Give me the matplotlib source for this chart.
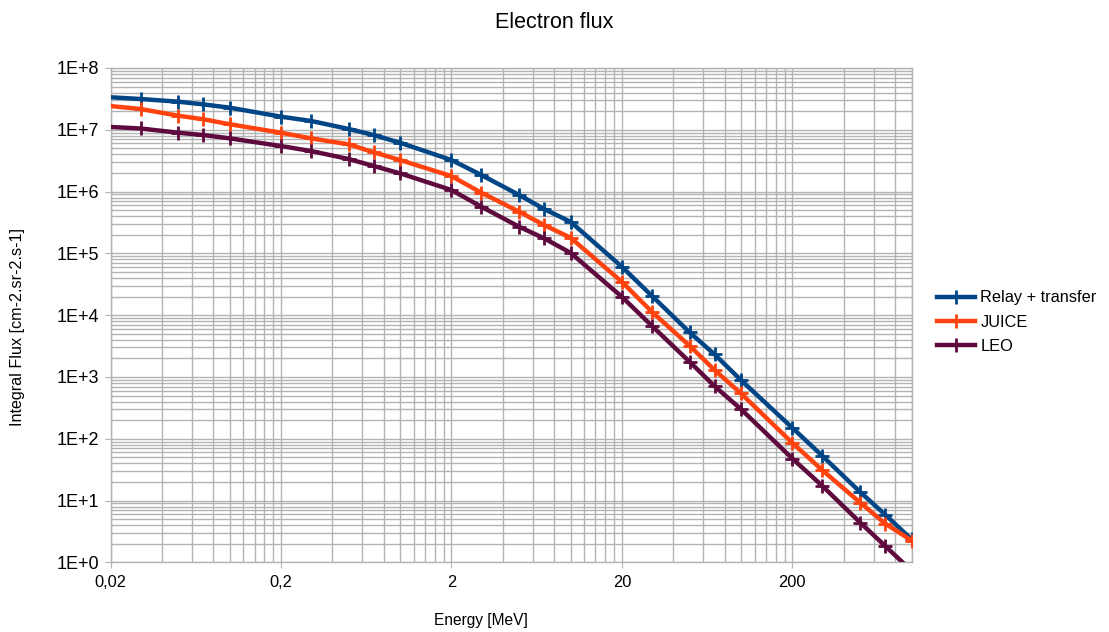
import matplotlib
matplotlib.use("Agg")
import matplotlib.pyplot as plt
from matplotlib.ticker import FixedLocator, FuncFormatter, NullFormatter

plt.rcParams['font.family'] = ['Liberation Sans', 'DejaVu Sans']

energy = [0.02, 0.03, 0.05, 0.07, 0.1, 0.2, 0.3, 0.5, 0.7, 1.0, 2.0, 3.0, 5.0, 7.0, 10.0,
          20.0, 30.0, 50.0, 70.0, 100.0, 200.0, 300.0, 500.0, 700.0, 1000.0]
relay = [3.36e7, 3.15e7, 2.85e7, 2.58e7, 2.28e7, 1.63e7, 1.39e7, 1.03e7, 8.22e6, 6.17e6,
         3.24e6, 1.85e6, 8.78e5, 5.21e5, 3.24e5, 6.06e4, 2.05e4, 5.25e3, 2.31e3, 886,
         150, 52.7, 13.7, 5.92, 2.36]
juice = [2.42e7, 2.17e7, 1.69e7, 1.48e7, 1.23e7, 8.96e6, 7.27e6, 5.81e6, 4.32e6, 3.24e6,
         1.78e6, 9.57e5, 4.71e5, 2.87e5, 1.79e5, 3.46e4, 1.13e4, 3.18e3, 1.29e3, 540,
         85.5, 30.9, 9.26, 4.24, 2.25]
leo = [1.11e7, 1.05e7, 8.96e6, 8.22e6, 7.27e6, 5.46e6, 4.53e6, 3.36e6, 2.59e6, 1.97e6,
       1.06e6, 5.68e5, 2.69e5, 1.75e5, 1.02e5, 1.98e4, 6.71e3, 1.75e3, 708, 300,
       47.8, 17.2, 4.40, 1.84, 0.73]

series_names = ["Relay + transfer", "JUICE", "LEO"]
series_colors = ["#004586", "#ff420e", "#5e0a3e"]
x_tick_values = [0.02, 0.2, 2, 20, 200]
x_tick_labels = ["0,02", "0,2", "2", "20", "200"]
y_exponents = [0, 1, 2, 3, 4, 5, 6, 7, 8]
y_tick_labels = ["1E+%d" % e for e in y_exponents]

fig = plt.figure(figsize=(11.09, 6.32), dpi=100)
ax = fig.add_axes([110.5 / 1109, 1 - 562.3 / 632, (911.5 - 110.5) / 1109, (562.3 - 68) / 632])

grid_c = "#b3b3b3"
for vals, name, col in zip([relay, juice, leo], series_names, series_colors):
    ax.plot(energy, vals, color=col, lw=3.2, marker='+', markersize=10, mew=2.0,
            markevery=slice(1, None), label=name, solid_joinstyle='round', zorder=3)

ax.set_xscale('log')
ax.set_yscale('log')
ax.set_xlim(0.02, 1000)
ax.set_ylim(1, 1e8)

ax.set_xticks(x_tick_values, x_tick_labels)
minor_x = [0.02 * (10 ** d) * k for d in range(5) for k in range(2, 10)]
ax.xaxis.set_minor_locator(FixedLocator(minor_x))
ax.xaxis.set_minor_formatter(NullFormatter())

y_major = [10.0 ** e for e in y_exponents]
ax.set_yticks(y_major, y_tick_labels)
minor_y = [k * 10.0 ** e for e in y_exponents[:-1] for k in range(2, 10)]
ax.yaxis.set_minor_locator(FixedLocator(minor_y))
ax.yaxis.set_minor_formatter(NullFormatter())

ax.grid(True, which='both', color=grid_c, lw=1.0)
ax.set_axisbelow(True)
for s in ax.spines.values():
    s.set_color(grid_c)
    s.set_linewidth(1.0)
ax.tick_params(which='major', length=4, color=grid_c, labelcolor='#000000', pad=4)
ax.tick_params(axis='x', which='major', labelsize=11.8, pad=5)
ax.tick_params(axis='y', which='major', labelsize=13)
ax.tick_params(which='minor', length=0)

fig.text(0.5, 1 - 23 / 632, "Electron flux", ha='center', va='center', fontsize=15.5)
fig.text(481 / 1109, 1 - 621 / 632, "Energy [MeV]", ha='center', va='center', fontsize=11.2)
fig.text(18 / 1109, 1 - 327 / 632, "Integral Flux [cm-2.sr-2.s-1]", ha='center', va='center',
         rotation=90, fontsize=11.6)

leg = ax.legend(loc='center left', bbox_to_anchor=(937 / 1109, 1 - 322 / 632), bbox_transform=fig.transFigure,
                frameon=False, fontsize=11.8, handlelength=2.3, handletextpad=0.35, labelspacing=0.55,
                borderaxespad=0, borderpad=0)

fig.savefig("out.png", dpi=100)
